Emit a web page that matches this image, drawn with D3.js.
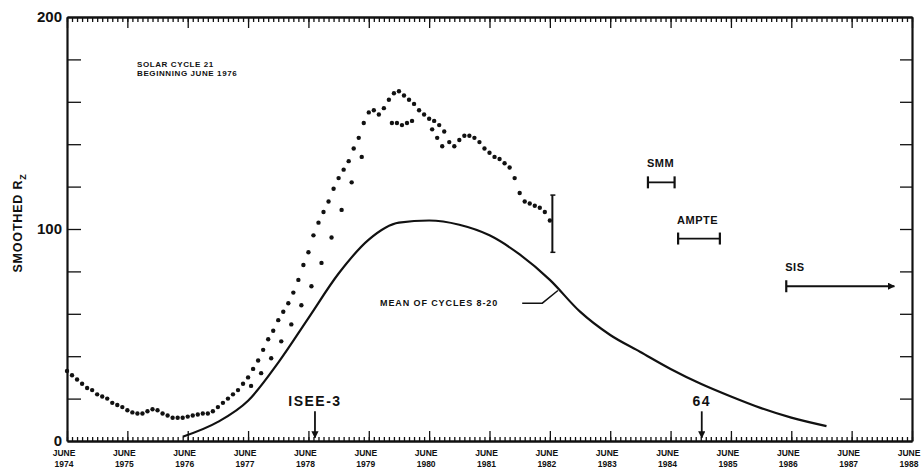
<!DOCTYPE html>
<html>
<head>
<meta charset="utf-8">
<script src="https://cdn.jsdelivr.net/npm/d3@7"></script>
<style>
  body { margin: 0; background: #fff; }
  text { font-family: "Liberation Sans", Arial, sans-serif; font-weight: bold; fill: #111; }
</style>
</head>
<body>
<svg width="924" height="473"></svg>
<script>
// smoothed Rz, one value per month starting June 1974 (month 0)
const obsValues = [
  33, 31, 29, 27, 25, 24, 22, 21, 20, 18, 17, 16,
  14.5, 13.5, 13, 13, 14, 15, 14.5, 13, 12, 11, 11, 11,
  11.5, 12, 12.5, 13, 13, 14, 16, 18, 20, 22, 24, 27,
  30, 34, 38, 43, 48, 52, 57, 61, 65, 70, 76, 83,
  89, 97, 103, 108, 113, 119, 124, 128, 132, 138, 143, 150,
  155, 156, 154, 157, 161, 164, 165, 163, 161, 159, 156, 154,
  152, 151, 149, 146, 141, 139, 142, 144, 144, 143, 141, 138,
  136, 134, 133, 131, 129, 124, 117, 113, 112, 111, 110, 108,
  104
]

// second (lower) track of points
const altMonths = [36, 38, 40, 42, 44, 46, 48, 50, 52, 54, 56, 58, 64, 65, 66, 67, 68, 72, 73, 74]
const altValues = [26, 32, 39, 47, 55, 64, 73, 84, 96, 109, 122, 134, 150, 150, 149, 150, 151, 147, 143, 139]

// mean of cycles 8-20
const meanMonths = [23, 30, 36, 42, 48, 54, 60, 66, 72, 78, 84, 90, 96, 102, 108, 114, 120, 126, 132, 138, 144, 151]
const meanValues = [2, 9, 19, 37, 58, 79, 95, 103, 104, 102, 97, 88, 76, 61, 50, 42, 34, 27, 21, 15.5, 11, 7]

// axis ticks
const tickYears = ["1974", "1975", "1976", "1977", "1978", "1979", "1980", "1981",
  "1982", "1983", "1984", "1985", "1986", "1987", "1988"]
const yLabels = [0, 100, 200]
const yMinor = [20, 40, 60, 80, 100, 120, 140, 160, 180]

// missions: name, start month, end month, Rz level
const missionNames = ["SMM", "AMPTE", "SIS"]
const missionStart = [115.5, 121.5, 143]
const missionEnd = [120.8, 129.8, 164.5]
const missionLevel = [122, 95.5, 73]

// launch arrows
const launchNames = ["ISEE-3", "64"]
const launchMonths = [49.3, 126.2]

// uncertainty bar at end of observations
const errMonth = 96.5
const errRange = [89, 116]

const svg = d3.select("svg")
const width = +svg.attr("width")
const height = +svg.attr("height")

const x = d3.scaleLinear().domain([0, 168]).range([67, 912])
const y = d3.scaleLinear().domain([0, 200]).range([441, 17])

const g = svg.append("g")

svg.append("defs").append("marker")
  .attr("id", "arrow")
  .attr("viewBox", "0 0 10 10")
  .attr("refX", 9).attr("refY", 5)
  .attr("markerWidth", 4).attr("markerHeight", 4)
  .attr("orient", "auto")
  .append("path")
  .attr("d", "M0,0 L10,5 L0,10 z")
  .attr("fill", "#111")

const months = d3.range(0, 169)
const majors = d3.range(0, 169, 12)

//frame: monthly ticks on top and bottom
const styleAxis = sel => {
  sel.selectAll("path").attr("stroke", "#111").attr("stroke-width", 2.2)
  sel.selectAll("line").attr("stroke", "#111").attr("stroke-width", 1.3)
}

g.append("g").attr("transform", `translate(0,${y(0)})`)
  .call(d3.axisBottom(x).tickValues(months).tickSize(-4).tickSizeOuter(0).tickFormat(""))
  .call(styleAxis)
g.append("g").attr("transform", `translate(0,${y(0)})`)
  .call(d3.axisBottom(x).tickValues(majors).tickSize(-10).tickSizeOuter(0).tickFormat(""))
  .call(styleAxis)
g.append("g").attr("transform", `translate(0,${y(200)})`)
  .call(d3.axisTop(x).tickValues(months).tickSize(-5).tickSizeOuter(0).tickFormat(""))
  .call(styleAxis)
g.append("g").attr("transform", `translate(0,${y(200)})`)
  .call(d3.axisTop(x).tickValues(majors).tickSize(-11).tickSizeOuter(0).tickFormat(""))
  .call(styleAxis)

//left and right axes, ticks pointing inward
g.append("g").attr("transform", `translate(${x(0)},0)`)
  .call(d3.axisLeft(y).tickValues(yMinor).tickSize(-14).tickSizeOuter(0).tickFormat(""))
  .call(styleAxis)
g.append("g").attr("transform", `translate(${x(168)},0)`)
  .call(d3.axisRight(y).tickValues(yMinor).tickSize(-12).tickSizeOuter(0).tickFormat(""))
  .call(styleAxis)

g.selectAll("text.ylab")
  .data(yLabels)
  .enter().append("text")
  .attr("class", "ylab")
  .attr("x", x(0) - 5)
  .attr("y", d => y(d) + 5)
  .attr("text-anchor", "end")
  .attr("font-size", 15)
  .text(d => d)

//x labels, two lines each
const xl = g.selectAll("text.xlab")
  .data(tickYears)
  .enter().append("text")
  .attr("class", "xlab")
  .attr("text-anchor", "middle")
  .attr("font-size", 8.5)
xl.append("tspan").attr("x", (d, i) => x(majors[i]) - 3).attr("y", 456).text("JUNE")
xl.append("tspan").attr("x", (d, i) => x(majors[i]) - 3).attr("y", 467).text(d => d)

//axis title
g.append("text")
  .attr("transform", `translate(22,${y(100) - 6}) rotate(-90)`)
  .attr("text-anchor", "middle")
  .attr("font-size", 12.5)
  .attr("letter-spacing", 0.8)
  .text("SMOOTHED R")
  .append("tspan").attr("dy", 4).attr("font-size", 9).text("Z")

//observed points
g.selectAll("circle.obs")
  .data(obsValues)
  .enter().append("circle")
  .attr("class", "obs")
  .attr("cx", (d, i) => x(i))
  .attr("cy", d => y(d))
  .attr("r", 2.2)
  .attr("fill", "#111")

g.selectAll("circle.alt")
  .data(altValues)
  .enter().append("circle")
  .attr("class", "alt")
  .attr("cx", (d, i) => x(altMonths[i]) + 3)
  .attr("cy", d => y(d))
  .attr("r", 2.2)
  .attr("fill", "#111")

//error bar
g.append("line")
  .attr("x1", x(errMonth)).attr("x2", x(errMonth))
  .attr("y1", y(errRange[0])).attr("y2", y(errRange[1]))
  .attr("stroke", "#111").attr("stroke-width", 2)
errRange.forEach(v => {
  g.append("line")
    .attr("x1", x(errMonth) - 2).attr("x2", x(errMonth) + 3)
    .attr("y1", y(v)).attr("y2", y(v))
    .attr("stroke", "#111").attr("stroke-width", 1.5)
})

//mean curve
const line = d3.line()
  .x((d, i) => x(meanMonths[i]))
  .y(d => y(d))
  .curve(d3.curveMonotoneX)

g.append("path")
  .attr("d", line(meanValues))
  .attr("fill", "none")
  .attr("stroke", "#111")
  .attr("stroke-width", 2.2)

g.append("text")
  .attr("x", 380).attr("y", 306)
  .attr("font-size", 9)
  .attr("letter-spacing", 0.9)
  .text("MEAN OF CYCLES 8-20")
g.append("path")
  .attr("d", `M${x(90.5)},${y(65)} L${x(94.5)},${y(65)} L${x(97.6)},${y(71)}`)
  .attr("fill", "none").attr("stroke", "#111").attr("stroke-width", 1.5)

//title note
const note = g.append("text").attr("font-size", 8).attr("letter-spacing", 0.6)
note.append("tspan").attr("x", 137).attr("y", 67).text("SOLAR CYCLE 21")
note.append("tspan").attr("x", 137).attr("y", 76).text("BEGINNING JUNE 1976")

//mission bars
missionNames.forEach((name, i) => {
  const x1 = x(missionStart[i]), x2 = x(missionEnd[i]), yy = y(missionLevel[i])
  const last = i === missionNames.length - 1
  g.append("line")
    .attr("x1", x1).attr("x2", x2).attr("y1", yy).attr("y2", yy)
    .attr("stroke", "#111").attr("stroke-width", 1.8)
    .attr("marker-end", last ? "url(#arrow)" : null)
  g.append("line")
    .attr("x1", x1).attr("x2", x1).attr("y1", yy - 6).attr("y2", yy + 6)
    .attr("stroke", "#111").attr("stroke-width", 2.2)
  if (!last) {
    g.append("line")
      .attr("x1", x2).attr("x2", x2).attr("y1", yy - 6).attr("y2", yy + 6)
      .attr("stroke", "#111").attr("stroke-width", 2.2)
  }
  g.append("text")
    .attr("x", x1 - 1).attr("y", yy - 15)
    .attr("font-size", 11)
    .attr("letter-spacing", 0.5)
    .text(name)
})

//launch arrows
launchNames.forEach((name, i) => {
  const xx = x(launchMonths[i])
  g.append("line")
    .attr("x1", xx).attr("x2", xx).attr("y1", y(14)).attr("y2", y(1.5))
    .attr("stroke", "#111").attr("stroke-width", 1.8)
    .attr("marker-end", "url(#arrow)")
  g.append("text")
    .attr("x", xx).attr("y", y(16.5))
    .attr("text-anchor", "middle")
    .attr("font-size", 14)
    .attr("letter-spacing", 1.5)
    .text(name)
})
</script>
</body>
</html>
